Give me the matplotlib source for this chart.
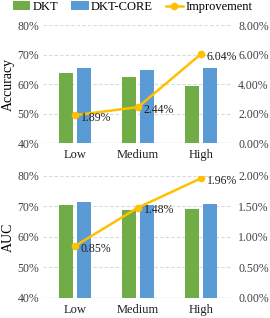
import matplotlib
matplotlib.use("Agg")
import matplotlib.pyplot as plt
import numpy as np
from matplotlib.ticker import FuncFormatter

plt.rcParams['font.family'] = ['Liberation Serif', 'DejaVu Serif']

categories = ["Low", "Medium", "High"]
acc_dkt = [63.7, 62.4, 59.3]
acc_core = [65.6, 64.9, 65.5]
acc_impr = [1.89, 2.44, 6.04]
auc_dkt = [70.4, 68.9, 69.0]
auc_core = [71.3, 70.3, 70.9]
auc_impr = [0.85, 1.48, 1.96]

GREEN = "#70AD47"
BLUE = "#5B9BD5"
GOLD = "#FFC000"

fig = plt.figure(figsize=(2.70, 3.18), dpi=100)
ax1 = fig.add_axes([0.161, 0.550, 0.700, 0.371])
ax2 = fig.add_axes([0.161, 0.063, 0.700, 0.384])

x = np.arange(len(categories))
w = 0.22
off = 0.143

def panel(ax, dkt, core, impr, rmax, rfmt, ylabel):
    ax.set_axisbelow(True)
    for v in [50, 60, 70, 80]:
        ax.axhline(v, color="#D9D9D9", lw=0.8, ls=(0, (3, 2)), zorder=0)
    ax.axhline(40, color="#D9D9D9", lw=1.0, zorder=0)
    b1 = ax.bar(x - off, dkt, w, color=GREEN, zorder=2, label="DKT")
    b2 = ax.bar(x + off, core, w, color=BLUE, zorder=2, label="DKT-CORE")
    ax.set_ylim(40, 80)
    ax.set_xlim(-0.5, 2.5)
    ax.set_yticks([40, 50, 60, 70, 80])
    ax.yaxis.set_major_formatter(FuncFormatter(lambda v, p: f"{v:.0f}%"))
    ax.set_xticks(x)
    ax.set_xticklabels(categories)
    for s in ax.spines.values():
        s.set_visible(False)
    ax.tick_params(length=0, labelsize=8.5, colors="#404040", pad=3)
    ax.tick_params(axis='x', labelsize=9, colors="#202020", pad=4)
    ax.set_ylabel(ylabel, fontsize=10, labelpad=2)
    axr = ax.twinx()
    for s in axr.spines.values():
        s.set_visible(False)
    ln, = axr.plot(x, impr, color=GOLD, lw=1.8, marker='o', ms=4.5, zorder=3, label="Improvement")
    axr.set_ylim(0, rmax)
    axr.set_yticks(np.linspace(0, rmax, 5))
    axr.yaxis.set_major_formatter(FuncFormatter(rfmt))
    axr.tick_params(length=0, labelsize=8.5, colors="#404040", pad=4)
    for xi, v in zip(x, impr):
        axr.annotate(f"{v:.2f}%", (xi, v), xytext=(4, -2), textcoords="offset points",
                     ha="left", va="center", fontsize=8.5, color="#202020")
    return b1, b2, ln

b1, b2, ln = panel(ax1, acc_dkt, acc_core, acc_impr, 8, lambda v, p: f"{v:.2f}%", "Accuracy")
panel(ax2, auc_dkt, auc_core, auc_impr, 2, lambda v, p: f"{v:.2f}%", "AUC")

fig.legend([b1, b2, ln], ["DKT", "DKT-CORE", "Improvement"], loc="upper left",
           bbox_to_anchor=(0.02, 1.02), ncol=3, frameon=False, fontsize=9,
           handlelength=1.4, handletextpad=0.2, columnspacing=1.0, borderaxespad=0.2)

fig.savefig("out.png", dpi=100)
